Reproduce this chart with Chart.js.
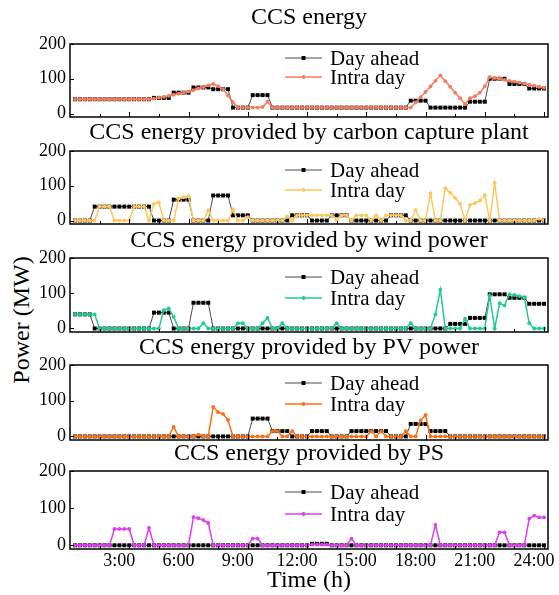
<!DOCTYPE html>
<html>
<head>
<meta charset="utf-8">
<script src="https://cdn.jsdelivr.net/npm/chart.js@4/dist/chart.umd.min.js"></script>
<style>
  html, body { margin: 0; padding: 0; background: #fff; width: 559px; height: 595px; overflow: hidden; }
  canvas { position: absolute; left: 0; top: 0; }
  #ylabel {
    position: absolute; left: 21px; top: 320px;
    transform: translate(-50%, -50%) rotate(-90deg);
    font: 24px "Liberation Serif", "Times New Roman", serif;
    color: #000; white-space: nowrap;
  }
</style>
</head>
<body>
<div id="ylabel">Power (MW)</div>
<script>
// ---- data -------------------------------------------------------------
const panelTitles = [
  'CCS energy',
  'CCS energy provided by carbon capture plant',
  'CCS energy provided by wind power',
  'CCS energy provided by PV power',
  'CCS energy provided by PS'
];
const seriesNames = ['Day ahead', 'Intra day'];

// time axis (hours)
const QUARTER_H = 0.25;
const majorTickHours = [3, 6, 9, 12, 15, 18, 21, 24];
const majorTickLabels = ['3:00', '6:00', '9:00', '12:00', '15:00', '18:00', '21:00', '24:00'];
const minorTickHours = [1.5, 4.5, 7.5, 10.5, 13.5, 16.5, 19.5, 22.5];
const powerTicks = [0, 100, 200];

// day-ahead schedules, one value per hour (MW)
const dayAheadTotal   = [41,41,41,41,45,60,75,70,17,53,17,17,17,17,17,17,17,37,17,17,34,100,85,72];
const dayAheadCapture = [0,40,40,40,0,60,0,72,15,0,0,15,0,15,0,0,15,0,0,0,0,0,0,0];
const dayAheadWind    = [40,0,0,0,45,0,73,0,0,0,0,0,0,0,0,0,0,0,0,13,30,97,87,70];
const dayAheadPV      = [0,0,0,0,0,0,0,0,0,50,15,0,15,0,15,15,0,35,15,0,0,0,0,0];
const dayAheadPS      = [0,0,0,0,0,0,0,0,0,0,0,0,4,0,0,0,0,0,0,0,0,0,0,0];

// intra-day schedules, one value per 15 min (MW)
const intraDayTotal = [
  41,41,41,41,41,41,41,41,41,41,41,41,41,41,41,41,
  43,46,48,51,54,57,60,63,67,72,76,81,85,
  79,70,52,33,17,17,17,17,17,19,34,
  17,17,17,17,17,17,17,17,17,17,17,17,17,17,17,17,17,17,17,17,17,17,17,17,17,17,17,17,
  17,32,47,62,78,94,110,93,77,60,44,27,
  44,50,60,78,105,102,100,97,94,92,89,86,83,80,77,74
];
const intraDayCapture = [
  0,0,0,0,0, 40,40,40, 0,0,0,0, 40,40,40, 0, 48,52, 0,0,0, 63,67,70, 0,0,0, 30,
  0,0,0,0, 32, 0,0, 10, 0,0,0,0,0,0,0, 12, 0, 15,15,15,15,15,15,15,15, 0, 15,15, 0,
  15,15,15, 0, 15, 0, 15,15,15,15, 0,0, 30, 0,0, 78, 0,0, 93,80,65,48, 0,
  45,50,57,73, 0, 108, 0,0,0,0,0,0,0,0, 5, 0
];
const intraDayWind = [
  40,40,40,40,40, 0,0,0,0,0,0,0,0,0,0,0,0,0, 52,57,33, 0,0,0,0,0, 15, 0,0,0,0,0,0,
  15,15, 0,0,0, 15,30, 0,0, 15, 0,0,0,0,0,0,0,0,0,0, 15,
  0,0,0,0,0,0,0,0,0,0,0,0,0,0, 15, 0,0,0,0, 40,110, 0,0,0,0, 28, 0,0,0,0,
  93, 0, 72,65,97,95,92,88, 15, 0,0,0
];
const intraDayPV = [
  0,0,0,0,0,0,0,0,0,0,0,0,0,0,0,0,0,0,0,0, 27, 0,0,0,0, 5, 0,0, 83,68,63,46,
  0,0,0,0,0,0,0,0, 15,15, 0,0, 15, 0,0,0,0,0,0,0,0,0,0,0,0,0,0,0, 15, 0, 15,
  0,0,0,0, 15, 0,0, 45,60, 0,0,0,0,0,0,0,0,0,0,0,0,0,0,0,0,0,0,0,0,0,0,0,0
];
const intraDayPS = [
  0,0,0,0,0,0,0,0, 44,44,44,44, 0,0,0, 47, 0,0,0,0,0,0,0,0, 76,73,68,60,
  0,0,0,0,0,0,0,0, 18,18, 0,0,0,0,0,0,0,0,0,0, 2,2,2,2, 0,0,0,0, 18,
  0,0,0,0,0,0,0,0,0,0,0,0,0,0,0,0, 55, 0,0,0,0,0,0,0,0,0,0,0,0, 35,35,
  0,0,0,0, 72,80,75,75
];

const dayAheadSeries = [dayAheadTotal, dayAheadCapture, dayAheadWind, dayAheadPV, dayAheadPS];
const intraDaySeries = [intraDayTotal, intraDayCapture, intraDayWind, intraDayPV, intraDayPS];
const intraDayColors = ['#F97B5E', '#FFC65C', '#1FCB8F', '#FF6E12', '#E03CF2'];

// ---- layout -----------------------------------------------------------
const W = 559, H = 595;
const PLOT_LEFT = 70, PLOT_RIGHT = 548;
const frames = [[44, 117], [151, 224], [258, 332], [365, 440], [471, 549]];
const titleCenters = [18, 133, 241, 348, 454];
const legendRows = [[58, 77], [170, 190], [277, 298], [383, 404], [492, 514]];
const FONT = '"Liberation Serif", "Times New Roman", serif';

// day-ahead values hold constant through each hour (4 quarter-hours)
const hourlyToQuarter = arr => arr.flatMap(v => [v, v, v, v]);
const toPoints = arr => arr.map((v, k) => ({ x: (k + 1) * QUARTER_H, y: v }));

// frame, inward ticks, panel title and legend
const panelDecor = {
  id: 'panelDecor',
  afterDraw(chart, args, o) {
    const { ctx, chartArea: { left, right, top, bottom }, scales: { x, y } } = chart;
    ctx.save();
    ctx.strokeStyle = '#000';
    ctx.lineWidth = 1.5;
    ctx.strokeRect(left, top, right - left, bottom - top);
    ctx.lineWidth = 1;
    ctx.beginPath();
    x.ticks.forEach(t => {
      const px = Math.round(x.getPixelForValue(t.value)) + 0.5;
      const len = majorTickHours.includes(t.value) ? 5 : 3;
      ctx.moveTo(px, bottom);
      ctx.lineTo(px, bottom - len);
    });
    y.ticks.forEach(t => {
      const py = Math.round(y.getPixelForValue(t.value)) + 0.5;
      ctx.moveTo(left, py);
      ctx.lineTo(left + 4, py);
    });
    ctx.stroke();

    // title
    ctx.fillStyle = '#000';
    ctx.font = '24px ' + FONT;
    ctx.textAlign = 'center';
    ctx.textBaseline = 'middle';
    ctx.fillText(o.title, (left + right) / 2, o.titleY);

    // legend
    ctx.font = '21px ' + FONT;
    ctx.textAlign = 'left';
    chart.data.datasets.forEach((ds, j) => {
      const ly = o.legendY[j];
      ctx.strokeStyle = ds.borderColor;
      ctx.lineWidth = ds.borderWidth;
      ctx.beginPath();
      ctx.moveTo(285, ly);
      ctx.lineTo(322, ly);
      ctx.stroke();
      ctx.fillStyle = ds.pointBackgroundColor;
      ctx.beginPath();
      if (ds.pointStyle === 'rect') {
        const s = ds.pointRadius * Math.SQRT1_2;
        ctx.rect(303.5 - s, ly - s, 2 * s, 2 * s);
      } else {
        ctx.arc(303.5, ly, ds.pointRadius, 0, Math.PI * 2);
      }
      ctx.fill();
      ctx.fillStyle = '#000';
      ctx.fillText(ds.label, 330, ly + 1);
    });
    ctx.restore();
  }
};

function makePanel(k) {
  const [top, bottom] = frames[k];
  const last = k === frames.length - 1;
  const xAxisH = last ? H - bottom : 0;
  const canvas = document.createElement('canvas');
  canvas.width = W;
  canvas.height = H;
  document.body.appendChild(canvas);
  const color = intraDayColors[k];

  new Chart(canvas, {
    type: 'line',
    data: {
      datasets: [
        {
          label: seriesNames[0],
          data: toPoints(hourlyToQuarter(dayAheadSeries[k])),
          borderColor: '#4a4a4a', borderWidth: 1,
          pointStyle: 'rect', pointRadius: 2.8,
          pointBackgroundColor: '#000', pointBorderColor: '#000', pointBorderWidth: 0,
          tension: 0, order: 1
        },
        {
          label: seriesNames[1],
          data: toPoints(intraDaySeries[k]),
          borderColor: color, borderWidth: 1.5,
          pointStyle: 'circle', pointRadius: 1.9,
          pointBackgroundColor: color, pointBorderColor: color, pointBorderWidth: 0,
          tension: 0, order: 0
        }
      ]
    },
    options: {
      responsive: false,
      animation: false,
      devicePixelRatio: 1,
      events: [],
      layout: { padding: { top: top, bottom: H - bottom - xAxisH, left: 0, right: W - PLOT_RIGHT } },
      plugins: {
        legend: { display: false },
        tooltip: { enabled: false },
        title: { display: false },
        panelDecor: { title: panelTitles[k], titleY: titleCenters[k], legendY: legendRows[k] }
      },
      scales: {
        x: {
          type: 'linear', min: 0, max: 24.2,
          grid: { display: false, drawTicks: false },
          border: { display: false },
          afterBuildTicks: s => {
            s.ticks = minorTickHours.concat(majorTickHours).sort((a, b) => a - b).map(v => ({ value: v }));
          },
          afterFit: s => { s.height = xAxisH; s.paddingLeft = 0; s.paddingRight = 0; },
          ticks: {
            display: last, autoSkip: false, maxRotation: 0, padding: 1, labelOffset: -10,
            color: '#000', font: { family: FONT, size: 18 },
            callback: v => {
              const i = majorTickHours.indexOf(v);
              return i >= 0 ? majorTickLabels[i] : '';
            }
          },
          title: {
            display: last, text: 'Time (h)', color: '#000',
            font: { family: FONT, size: 24 }, padding: { top: 0, bottom: 0 }
          }
        },
        y: {
          min: -10, max: 200,
          grid: { display: false, drawTicks: false },
          border: { display: false },
          afterBuildTicks: s => { s.ticks = powerTicks.map(v => ({ value: v })); },
          afterFit: s => { s.width = PLOT_LEFT; s.paddingTop = 0; s.paddingBottom = 0; },
          ticks: { padding: 4, color: '#000', font: { family: FONT, size: 18 } }
        }
      }
    },
    plugins: [panelDecor]
  });
}

for (let k = 0; k < frames.length; k++) makePanel(k);
</script>
</body>
</html>
